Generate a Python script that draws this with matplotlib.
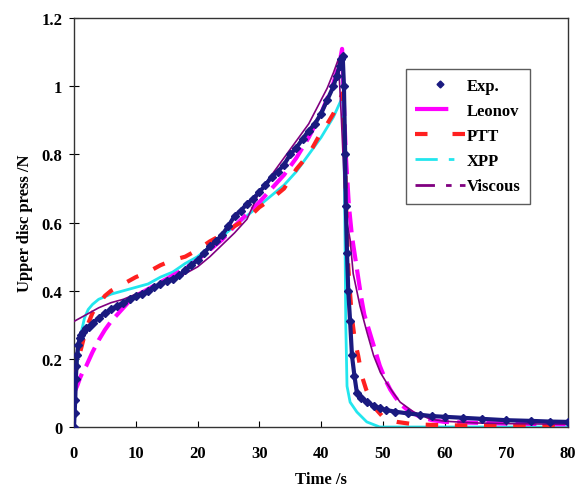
import matplotlib
matplotlib.use("Agg")
import matplotlib.pyplot as plt
from matplotlib.lines import Line2D

# ---------------- data ----------------
exp_t = [0, 0.1, 0.2, 0.3, 0.4, 0.5, 0.7, 0.9, 1.2, 1.5, 2, 2.5, 3, 4, 5, 6, 7, 8, 9, 10,
         11, 12, 13, 14, 15, 16, 17, 18, 19, 20, 21, 22, 23, 24, 25, 26, 27, 28, 29, 30,
         31, 32, 33, 34, 35, 36, 37, 38, 39, 40, 41, 42, 42.5, 43, 43.3, 43.5, 43.7, 43.9,
         44.0, 44.2, 44.4, 44.7, 45.0, 45.4, 45.8, 46.5, 47.5, 48.5, 49.5, 50.5, 52, 54,
         56, 58, 60, 63, 66, 70, 74, 77, 80]
exp_v = [0, 0.04, 0.08, 0.14, 0.18, 0.21, 0.24, 0.26, 0.27, 0.28, 0.29, 0.295, 0.305, 0.32, 0.335,
         0.345, 0.355, 0.365, 0.375, 0.385, 0.39, 0.40, 0.41, 0.42, 0.43, 0.435, 0.445, 0.46,
         0.475, 0.49, 0.51, 0.53, 0.545, 0.565, 0.59, 0.62, 0.635, 0.655, 0.67, 0.69, 0.71,
         0.735, 0.75, 0.77, 0.80, 0.82, 0.845, 0.87, 0.89, 0.92, 0.96, 1.0, 1.03, 1.06, 1.08,
         1.09, 1.0, 0.8, 0.65, 0.51, 0.40, 0.31, 0.21, 0.15, 0.10, 0.085, 0.072, 0.063, 0.055,
         0.05, 0.045, 0.04, 0.036, 0.032, 0.03, 0.027, 0.024, 0.02, 0.018, 0.016, 0.015]

leonov_t = [0, 0.5, 1, 1.5, 2, 3, 4, 5, 6, 7, 8, 9, 10, 11, 12, 14, 16, 18, 20, 22, 24, 26, 28,
            30, 32, 34, 36, 38, 40, 42, 43, 43.4, 43.6, 44.0, 44.5, 45, 45.5, 46, 46.5, 47,
            47.5, 48.5, 49.5, 50.5, 51.2, 52, 53, 54, 56, 58, 60, 70, 80]
leonov_v = [0.10, 0.12, 0.145, 0.165, 0.18, 0.22, 0.255, 0.285, 0.31, 0.33, 0.35, 0.37, 0.385,
            0.395, 0.405, 0.425, 0.445, 0.465, 0.49, 0.52, 0.55, 0.59, 0.625, 0.66, 0.70, 0.74,
            0.79, 0.85, 0.92, 1.01, 1.07, 1.11, 1.0, 0.80, 0.65, 0.56, 0.50, 0.44, 0.38, 0.33,
            0.30, 0.24, 0.18, 0.135, 0.11, 0.088, 0.065, 0.05, 0.03, 0.02, 0.015, 0.01, 0.008]

ptt_t = [0, 0.5, 1, 2, 3, 4, 5, 6, 8, 10, 12, 14, 16, 18, 20, 22, 24, 26, 28, 30, 32, 34, 36,
         38, 40, 41, 42, 43, 43.5, 43.8, 44.1, 44.4, 44.7, 45, 45.5, 46, 46.6, 47.3, 48, 49,
         50, 51, 52.3, 55, 60, 70, 80]
ptt_v = [0.14, 0.18, 0.22, 0.29, 0.335, 0.36, 0.385, 0.40, 0.42, 0.44, 0.455, 0.475, 0.49, 0.50,
         0.52, 0.545, 0.565, 0.59, 0.61, 0.645, 0.67, 0.70, 0.757, 0.80, 0.865, 0.89, 0.92,
         0.96, 0.98, 0.85, 0.62, 0.47, 0.39, 0.32, 0.25, 0.21, 0.15, 0.11, 0.08, 0.05, 0.03,
         0.02, 0.015, 0.008, 0.005, 0.004, 0.004]

xpp_t = [0, 0.3, 0.7, 1.2, 1.7, 2.3, 3, 4, 6, 8, 10, 12, 14, 16, 18, 20, 22, 24, 26, 28, 30,
         32, 34, 36, 38, 40, 41, 42, 43, 43.5, 43.8, 44.0, 44.2, 44.7, 45.8, 47.4, 49.5, 60,
         70, 80]
xpp_v = [0.09, 0.15, 0.22, 0.28, 0.32, 0.345, 0.36, 0.375, 0.39, 0.40, 0.41, 0.42, 0.44, 0.455,
         0.48, 0.50, 0.53, 0.56, 0.59, 0.62, 0.65, 0.68, 0.71, 0.75, 0.80, 0.85, 0.88, 0.91,
         0.95, 0.97, 0.7, 0.3, 0.12, 0.073, 0.044, 0.015, 0.0, 0.0, 0.0, 0.0]

visc_t = [0, 2, 4, 6, 8, 10, 12, 14, 16, 18, 20, 22, 24, 26, 28, 30, 32, 34, 36, 38, 40, 41,
          42, 42.8, 43.3, 43.8, 44.2, 44.7, 45.2, 46.3, 47.4, 48.5, 49.6, 50.6, 51.7, 52.8, 55,
          57.7, 60, 65, 70, 80]
visc_v = [0.31, 0.33, 0.35, 0.365, 0.375, 0.39, 0.40, 0.415, 0.43, 0.45, 0.47, 0.50, 0.535,
          0.57, 0.61, 0.69, 0.74, 0.79, 0.84, 0.89, 0.96, 0.995, 1.04, 1.08, 0.90, 0.70, 0.60,
          0.55, 0.45, 0.355, 0.28, 0.21, 0.16, 0.13, 0.10, 0.073, 0.044, 0.023, 0.017, 0.012,
          0.01, 0.008]

x_ticks = [0, 10, 20, 30, 40, 50, 60, 70, 80]
y_ticks = [0, 0.2, 0.4, 0.6, 0.8, 1.0, 1.2]
y_tick_labels = ["0", "0.2", "0.4", "0.6", "0.8", "1", "1.2"]
labels = ["Exp.", "Leonov", "PTT", "XPP", "Viscous"]

# ---------------- plot ----------------
plt.rcParams["font.family"] = ["Liberation Serif", "DejaVu Serif"]
plt.rcParams["font.weight"] = "bold"

fig = plt.figure(figsize=(5.78, 4.89), dpi=100)
ax = fig.add_axes([0.128, 0.1247, 0.855, 0.836])

navy = "#1a1a80"
mag = "#ff00ff"
red = "#ff2020"
cyan = "#22e6ee"
purple = "#800080"

ax.plot(leonov_t, leonov_v, color=mag, lw=3, dashes=(5, 2), zorder=3)
ax.plot(ptt_t, ptt_v, color=red, lw=3, dashes=(3, 4), zorder=3)
ax.plot(xpp_t, xpp_v, color=cyan, lw=2, zorder=2)
ax.plot(visc_t, visc_v, color=purple, lw=1.2, zorder=4)
ax.plot(exp_t, exp_v, color=navy, lw=3, marker="D", ms=4, zorder=5)

ax.set_xlim(0, 80)
ax.set_ylim(0, 1.2)
ax.set_xticks(x_ticks)
ax.set_yticks(y_ticks)
ax.set_yticklabels(y_tick_labels)
ax.tick_params(axis="x", direction="in", length=4, labelsize=12, pad=13)
ax.tick_params(axis="y", direction="inout", length=7, labelsize=12, pad=5)
for lab in ax.get_xticklabels() + ax.get_yticklabels():
    lab.set_fontweight("bold")
for s in ax.spines.values():
    s.set_linewidth(1.0)
    s.set_color("#333333")

ax.set_xlabel("Time /s", fontsize=12, fontweight="bold", labelpad=7)
ax.set_ylabel("Upper disc press /N", fontsize=12, fontweight="bold", labelpad=6)

handles = [
    Line2D([], [], color=navy, marker="D", ms=3.5, ls="none"),
    Line2D([], [], color=mag, lw=3, dashes=(8, 6, 4, 6)),
    Line2D([], [], color=red, lw=3, dashes=(3, 6)),
    Line2D([], [], color=cyan, lw=2, dashes=(8, 4, 2, 4)),
    Line2D([], [], color=purple, lw=2, dashes=(7, 4, 2, 3, 2, 3)),
]
leg = ax.legend(handles, labels, loc="upper left", bbox_to_anchor=(0.672, 0.877),
                fontsize=12, handlelength=3.0, handletextpad=0.1, labelspacing=0.55,
                frameon=True, fancybox=False, edgecolor="#333333", borderpad=0.55,
                borderaxespad=0.0)
leg.get_frame().set_linewidth(1.0)
for t in leg.get_texts():
    t.set_fontweight("bold")

fig.savefig("out.png", dpi=100)
